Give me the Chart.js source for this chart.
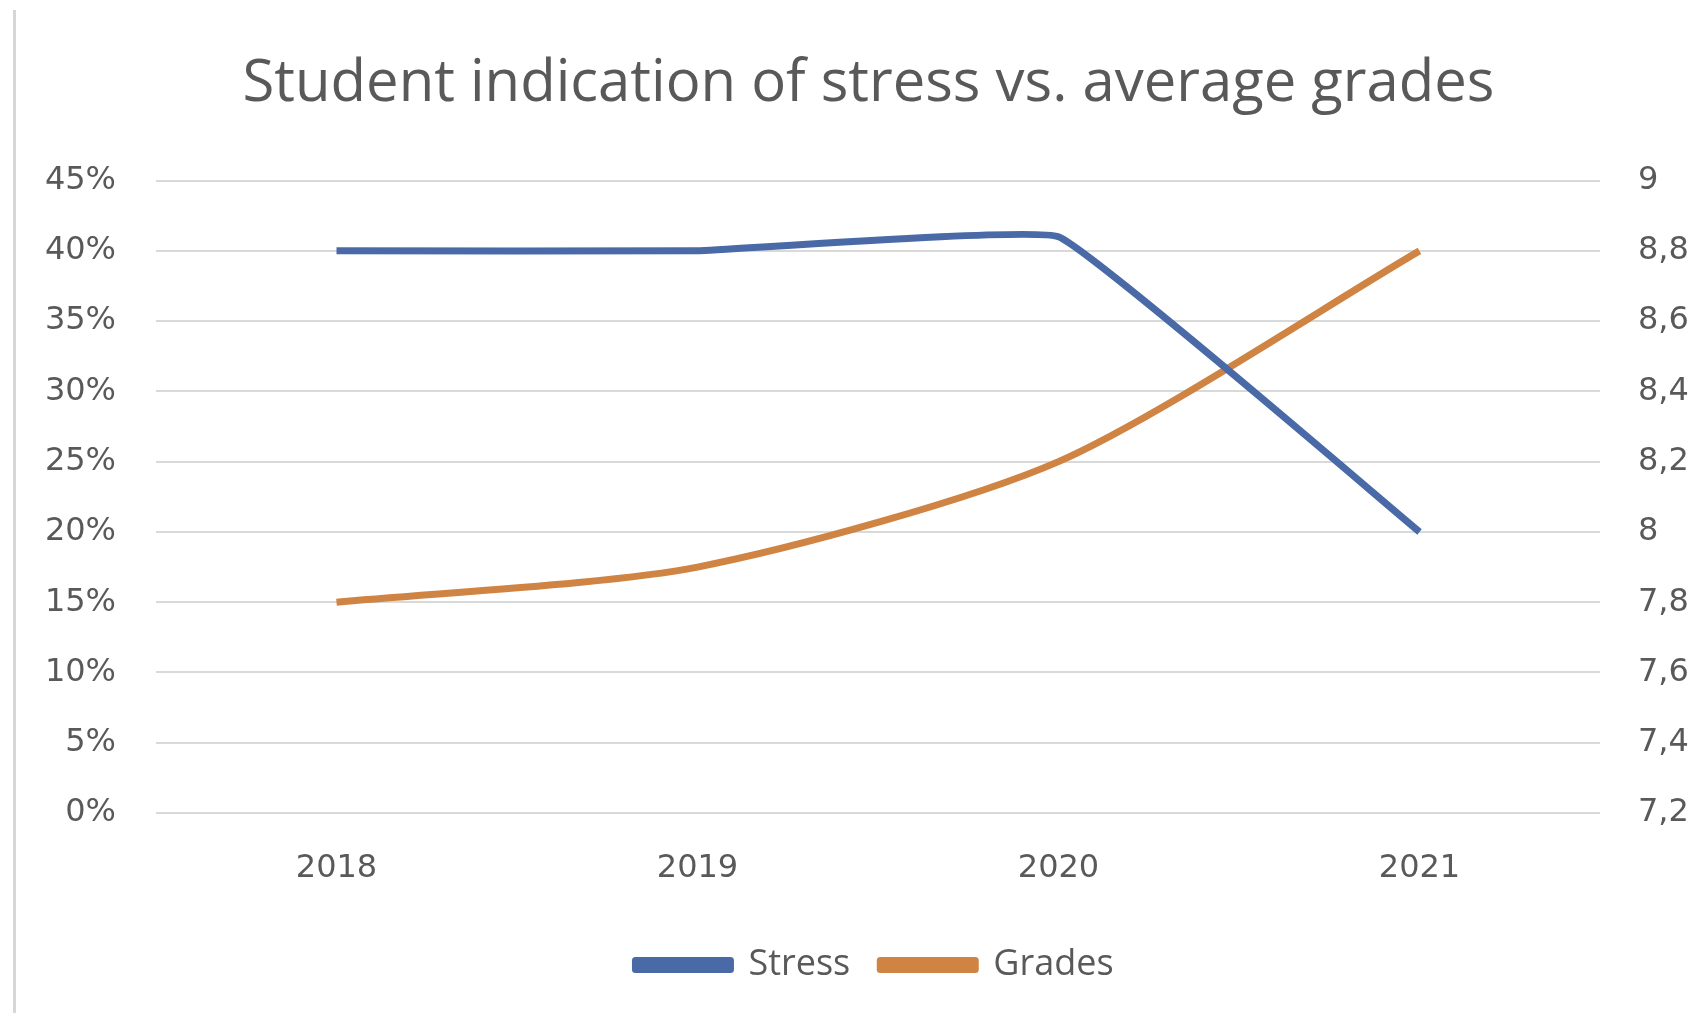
<!DOCTYPE html>
<html>
<head>
<meta charset="utf-8">
<script src="https://cdn.jsdelivr.net/npm/chart.js@4"></script>
<style>
  body { margin: 0; background: #fff; overflow: hidden; }
  #wrap { position: relative; width: 1701px; height: 1023px; }
  #edge { position: absolute; left: 13px; top: 10px; width: 3px; height: 1003px; background: #d6d6d6; }
</style>
</head>
<body>
<div id="wrap">
  <canvas id="chart" width="1701" height="1023"></canvas>
  <div id="edge"></div>
</div>
<script>
// chart data
var years = ['2018', '2019', '2020', '2021'];
var stress = [40, 40, 41, 20];      // percent
var grades = [7.8, 7.9, 8.2, 8.8];

var textColor = '#595959';
var gridColor = '#d9d9d9';

function gradeLabel(v) {
    return String(Number(v.toFixed(1))).replace('.', ',');
}

// title and legend sit a little right of centre in the original
var boxShift = {
    id: 'boxShift',
    afterLayout: function(chart) {
        chart.legend.left += 24;
        chart.legend.right += 24;
        chart.titleBlock.left += 18;
        chart.titleBlock.right += 18;
    }
};

var chart = new Chart(document.getElementById('chart'), {
    type: 'line',
    data: {
        labels: years,
        datasets: [{
            label: 'Stress',
            data: stress,
            yAxisID: 'y',
            borderColor: '#4a6aa7',
            backgroundColor: '#4a6aa7',
            borderWidth: 7,
            pointRadius: 0,
            tension: 0.08,
            borderJoinStyle: 'round'
        }, {
            label: 'Grades',
            data: grades,
            yAxisID: 'y2',
            borderColor: '#d08443',
            backgroundColor: '#d08443',
            borderWidth: 7,
            pointRadius: 0,
            tension: 0.25,
            borderJoinStyle: 'round'
        }]
    },
    plugins: [boxShift],
    options: {
        responsive: false,
        animation: false,
        devicePixelRatio: 1,
        layout: { padding: { left: 0, right: 0, top: 0, bottom: 30 } },
        plugins: {
            title: {
                display: true,
                text: 'Student indication of stress vs. average grades',
                color: textColor,
                font: { family: 'Open Sans', size: 58, weight: 'normal' },
                padding: { top: 50, bottom: 61 }
            },
            legend: {
                position: 'bottom',
                labels: {
                    color: textColor,
                    font: { family: 'Open Sans', size: 36 },
                    boxWidth: 95,
                    boxHeight: 9,
                    padding: 30
                }
            },
            tooltip: { enabled: false }
        },
        scales: {
            x: {
                offset: true,
                grid: { display: false, drawTicks: false },
                border: { display: false },
                ticks: {
                    color: textColor,
                    font: { family: 'DejaVu Sans', size: 32 },
                    padding: 36
                },
                afterFit: function(s) { s.height = 104; }
            },
            y: {
                position: 'left',
                min: 0,
                max: 45,
                grid: { color: gridColor, lineWidth: 2, drawTicks: false },
                border: { display: false },
                ticks: {
                    stepSize: 5,
                    color: textColor,
                    font: { family: 'DejaVu Sans', size: 32 },
                    padding: 40,
                    callback: function(v) { return v + '%'; }
                },
                afterFit: function(s) { s.width = 156; }
            },
            y2: {
                position: 'right',
                min: 7.2,
                max: 9,
                grid: { display: false, drawTicks: false },
                border: { display: false },
                ticks: {
                    stepSize: 0.2,
                    color: textColor,
                    font: { family: 'DejaVu Sans', size: 32 },
                    padding: 38,
                    callback: function(v) { return gradeLabel(v); }
                },
                afterFit: function(s) { s.width = 101; }
            }
        }
    }
});
</script>
</body>
</html>
